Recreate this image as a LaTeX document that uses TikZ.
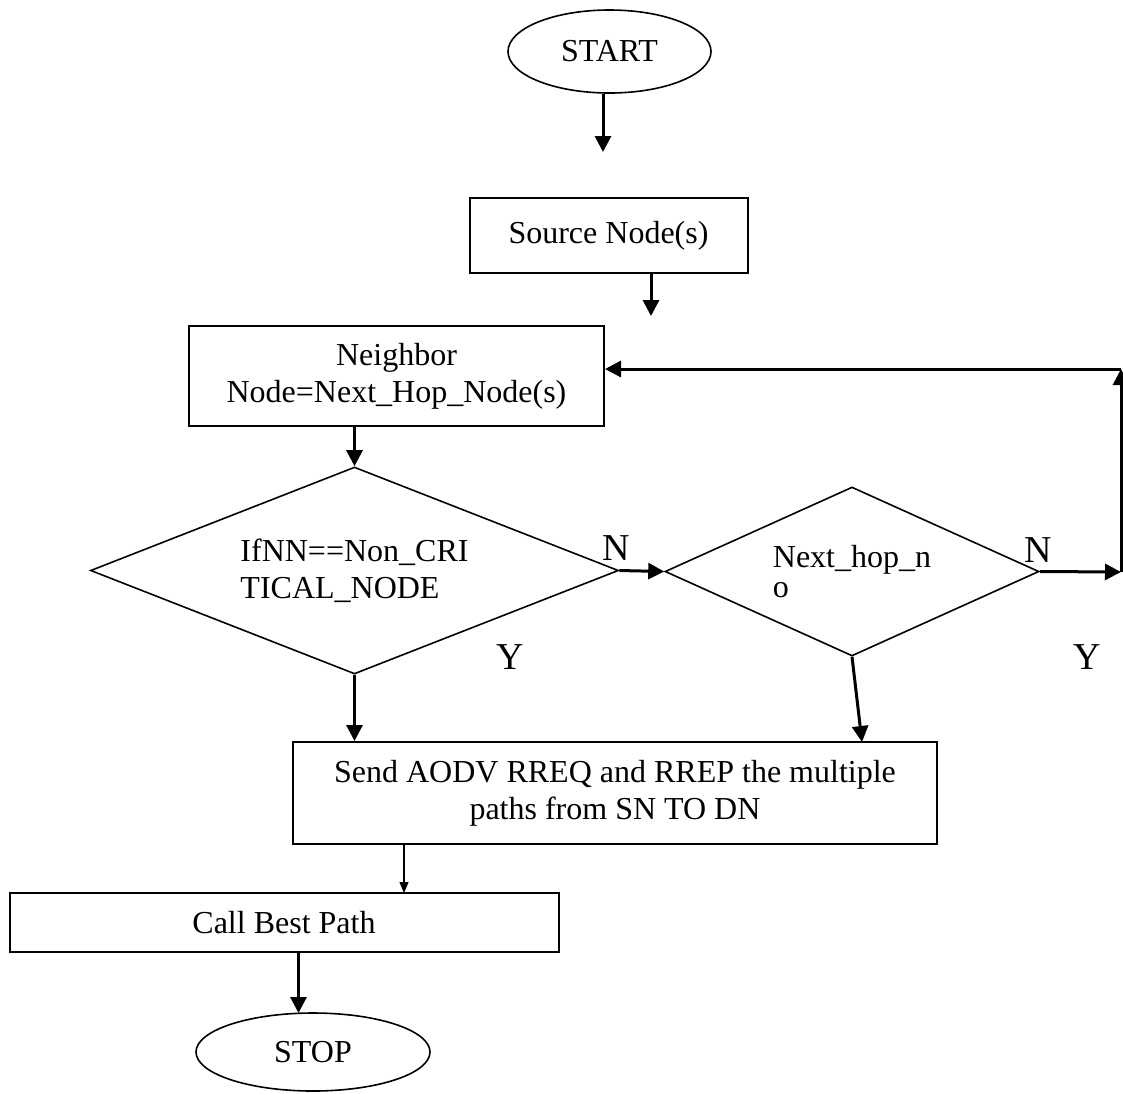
\documentclass[tikz,border=0pt]{standalone}
\usepackage{fontspec}
\setmainfont{Liberation Serif}
\usetikzlibrary{shapes.geometric,arrows.meta}

\begin{document}
\begin{tikzpicture}[x=0.5pt,y=-0.5pt,
  every node/.style={font=\fontsize{16pt}{18.5pt}\selectfont},
  term/.style={draw,ellipse,line width=0.8pt,inner sep=0pt},
  proc/.style={draw,rectangle,line width=1pt,inner sep=0pt,align=center},
  decide/.style={draw,diamond,line width=0.8pt,inner sep=0pt,align=left},
  yn/.style={font=\fontsize{19pt}{22pt}\selectfont},
  arr/.style={-{Triangle[length=8pt,width=8pt]},line width=1.5pt},
  thinarr/.style={-{Triangle[length=5.5pt,width=4.5pt]},line width=0.6pt}]

\useasboundingbox (0,0) rectangle (1123,1093);

%%%%%%%%%%%%%%%%%%%%%%%%
% top part
%%%%%%%%%%%%%%%%%%%%%%%%

\node[term,minimum width=101.5pt,minimum height=41.5pt](start) at (609.5,51.5) {START};
\node[proc,minimum width=139pt,minimum height=37.5pt](source) at (608.5,235.5) {Source Node(s)};
\node[proc,minimum width=207.5pt,minimum height=50pt](neigh) at (396.5,376) {Neighbor\\Node=Next\_Hop\_Node(s)};

\coordinate(a1) at (603,152);
\coordinate(a2) at (651,316);

\draw[arr] (start.south -| a1) -- (a1);
\draw[arr] (source.south -| a2) -- (a2);

%%%%%%%%%%%%%%%%%%%%%%%%
% decisions
%%%%%%%%%%%%%%%%%%%%%%%%

\node[decide,minimum width=264pt,minimum height=103.5pt,aspect=2.55](dec1) at (354.5,570.5) {IfNN==Non\_CRI\\TICAL\_NODE};
\node[decide,minimum width=187pt,minimum height=84.5pt,aspect=2.2,
  font=\fontsize{16pt}{15pt}\selectfont](dec2) at (852,571.5) {Next\_hop\_n\\o};

\node[yn](n1) at (616,548) {N};
\node[yn](n2) at (1038,550) {N};
\node[yn](y1) at (510,657) {Y};
\node[yn](y2) at (1087,657) {Y};

\coordinate(c1) at (1121,572);
\coordinate(c2) at (1121,369);

\draw[arr] (neigh.south -| dec1.north) -- (dec1.north);
\draw[arr] (dec1.east) -- (dec2.west);
\draw[arr] (dec2.east) -- (c1);
\draw[arr] (c1) -- (c2);
\draw[arr] (c2) -- (c2 -| neigh.east);

%%%%%%%%%%%%%%%%%%%%%%%%
% bottom part
%%%%%%%%%%%%%%%%%%%%%%%%

\node[proc,minimum width=322pt,minimum height=51pt](send) at (615,793) {Send AODV RREQ and RREP the multiple\\paths from SN TO DN};
\node[proc,minimum width=274.5pt,minimum height=29.5pt](call) at (284,922.5) {Call Best Path};
\node[term,minimum width=117pt,minimum height=39pt](stop) at (313,1052) {STOP};

\coordinate(a3) at (862,742);
\coordinate(a4) at (404,893);
\coordinate(a5) at (298.5,1013);

\draw[arr] (dec1.south) -- (dec1.south |- send.north);
\draw[arr] (dec2.south) -- (a3);
\draw[thinarr] (send.south -| a4) -- (a4);
\draw[arr] (call.south -| a5) -- (a5);

\end{tikzpicture}
\end{document}
